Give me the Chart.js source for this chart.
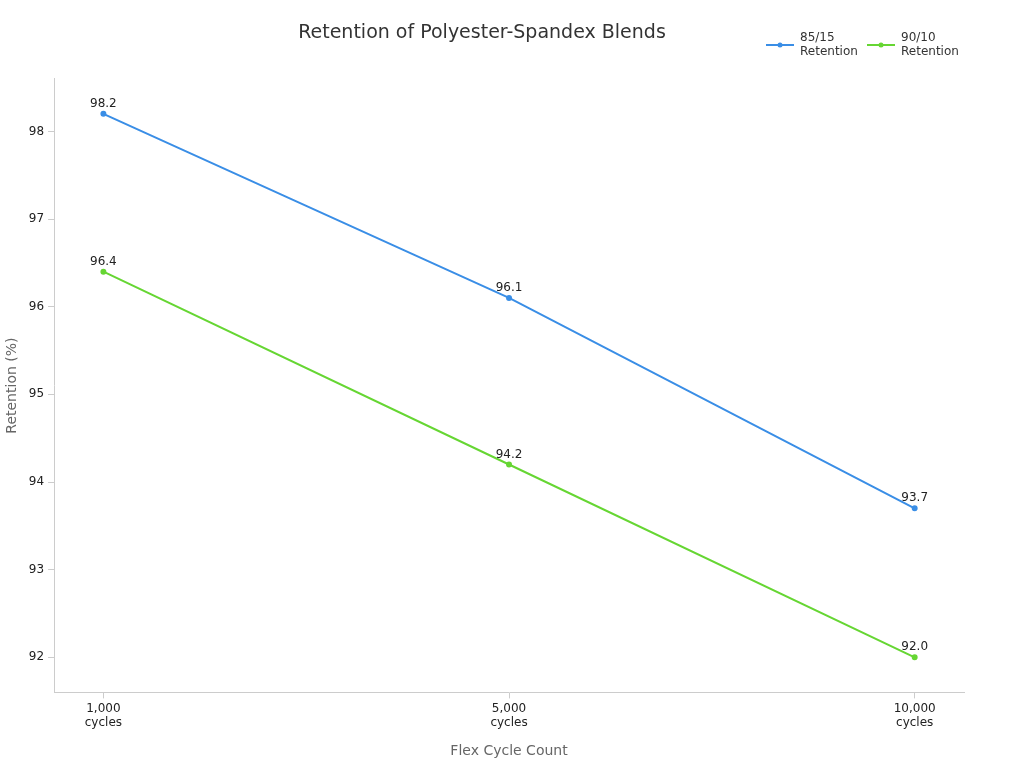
<!DOCTYPE html>
<html>
<head>
<script src="https://cdn.jsdelivr.net/npm/chart.js@4"></script>
<style>
  body { margin: 0; background: #fff; }
  #wrap { width: 1024px; height: 768px; }
</style>
</head>
<body>
<div id="wrap"><canvas id="c"></canvas></div>
<script>
const cycleLabels = [['1,000', 'cycles'], ['5,000', 'cycles'], ['10,000', 'cycles']];
const seriesNames = [['85/15', 'Retention'], ['90/10', 'Retention']];
const blend8515 = [98.2, 96.1, 93.7];
const blend9010 = [96.4, 94.2, 92.0];

const toPoints = arr => arr.map((v, i) => ({ x: i, y: v }));

// value labels above each point + small two-line legend top right
const extras = {
  id: 'extras',
  afterDatasetsDraw(chart) {
    const ctx = chart.ctx;
    ctx.save();
    ctx.font = '12px "DejaVu Sans"';
    ctx.fillStyle = '#222';
    ctx.textAlign = 'center';
    ctx.textBaseline = 'bottom';
    chart.data.datasets.forEach((ds, di) => {
      chart.getDatasetMeta(di).data.forEach((pt, i) => {
        ctx.fillText(ds.data[i].y.toFixed(1), pt.x, pt.y - 4);
      });
    });

    // legend
    const starts = [766, 867];
    ctx.textAlign = 'left';
    ctx.textBaseline = 'middle';
    chart.data.datasets.forEach((ds, di) => {
      const x = starts[di];
      ctx.strokeStyle = ds.borderColor;
      ctx.fillStyle = ds.borderColor;
      ctx.lineWidth = 2;
      ctx.beginPath();
      ctx.moveTo(x, 45);
      ctx.lineTo(x + 28, 45);
      ctx.stroke();
      ctx.beginPath();
      ctx.arc(x + 14, 45, 2.5, 0, Math.PI * 2);
      ctx.fill();
      ctx.fillStyle = '#333';
      seriesNames[di].forEach((line, li) => ctx.fillText(line, x + 34, 38 + li * 14));
    });
    ctx.restore();
  }
};

new Chart(document.getElementById('c'), {
  type: 'line',
  data: {
    datasets: [{
      label: '85/15 Retention',
      data: toPoints(blend8515),
      borderColor: '#3a8ee6',
      backgroundColor: '#3a8ee6',
      borderWidth: 2,
      pointRadius: 2
    }, {
      label: '90/10 Retention',
      data: toPoints(blend9010),
      borderColor: '#66d633',
      backgroundColor: '#66d633',
      borderWidth: 2,
      pointRadius: 2
    }]
  },
  options: {
    responsive: true,
    maintainAspectRatio: false,
    animation: false,
    layout: { padding: { left: 0, right: 60, top: 12, bottom: 4 } },
    plugins: {
      title: {
        display: true,
        text: 'Retention of Polyester-Spandex Blends',
        font: { family: 'DejaVu Sans', size: 19, weight: 'normal' },
        color: '#333',
        padding: { top: 10, bottom: 34 }
      },
      legend: { display: false },
      tooltip: { enabled: false }
    },
    scales: {
      x: {
        type: 'linear',
        min: -0.1216,
        max: 2.1216,
        afterBuildTicks: axis => { axis.ticks = [0, 1, 2].map(v => ({ value: v })); },
        ticks: {
          callback: v => cycleLabels[v],
          font: { family: 'DejaVu Sans', size: 12 },
          color: '#222'
        },
        grid: { display: true, drawOnChartArea: false, tickLength: 6, color: '#ccc' },
        border: { color: '#ccc' },
        title: {
          display: true,
          text: 'Flex Cycle Count',
          font: { family: 'DejaVu Sans', size: 14 },
          color: '#666',
          padding: { top: 10 }
        }
      },
      y: {
        min: 91.6,
        max: 98.6,
        afterBuildTicks: axis => { axis.ticks = [92, 93, 94, 95, 96, 97, 98].map(v => ({ value: v })); },
        ticks: {
          font: { family: 'DejaVu Sans', size: 12 },
          color: '#222',
          padding: 4
        },
        grid: { display: true, drawOnChartArea: false, tickLength: 6, color: '#ccc' },
        border: { color: '#ccc' },
        title: {
          display: true,
          text: 'Retention (%)',
          font: { family: 'DejaVu Sans', size: 14 },
          color: '#666'
        }
      }
    }
  },
  plugins: [extras]
});
</script>
</body>
</html>
